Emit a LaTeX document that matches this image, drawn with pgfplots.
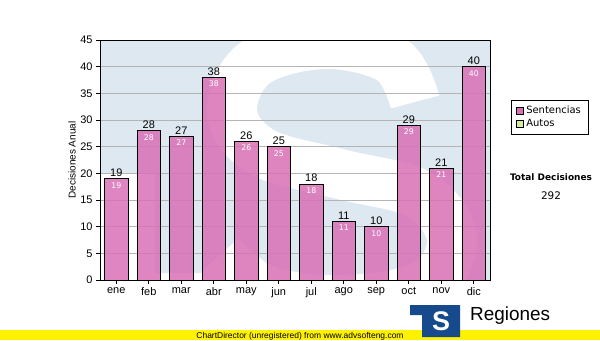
\documentclass[border=0pt]{standalone}
\usepackage{fontspec}
\setmainfont{Liberation Sans}
\newfontfamily\dejavu{DejaVu Sans}
\usepackage{pgfplots}
\pgfplotsset{compat=1.18}
\definecolor{barpink}{RGB}{217,112,182}
\definecolor{wmblue}{RGB}{222,232,241}
\definecolor{autosgreen}{RGB}{214,236,160}
\definecolor{logoblue}{RGB}{22,74,140}
\definecolor{gridgray}{RGB}{180,180,180}
\begin{document}
\begin{tikzpicture}[x=1bp,y=1bp]
\path[use as bounding box] (0,0) rectangle (600,340);
% watermark behind plot
\begin{scope}
\clip (100,60) rectangle (490,300);
\fill[wmblue] (100,300) -- (490,300) -- (490,60) -- (300,60) -- (300,67) -- (155,67) -- (155,167) -- (100,167) -- cycle;
\draw[white, line width=50bp, line cap=butt] plot[smooth, tension=0.6] coordinates {(415,238) (392,280) (325,296) (255,277) (232,228) (262,188) (340,166) (420,145) (452,100) (425,55) (345,40) (265,50) (220,85)};
\end{scope}
\begin{axis}[
  at={(100bp,60bp)}, anchor=south west,
  scale only axis, width=390bp, height=240bp,
  xmin=-0.5, xmax=11.5, ymin=0, ymax=45,
  ytick={0,5,...,45},
  xtick={0,...,11},
  xticklabels={ene,feb,mar,abr,may,jun,jul,ago,sep,oct,nov,dic},
  xtick pos=left, ytick pos=left,
  ymajorgrids, grid style={gridgray, line width=1bp},
  axis line style={black, line width=1bp},
  tick style={black, line width=1bp},
  tick align=outside, major tick length=4bp,
  /pgf/number format/assume math mode=true,
  tick label style={font=\fontsize{11}{13}\selectfont},
  every axis y label/.style={at={(axis description cs:-0.0718,0.5)}, rotate=90, anchor=center, font=\fontsize{10}{12}\selectfont},
  ylabel={Decisiones Anual},
  legend style={at={(axis description cs:1.054,0.75)}, anchor=north west, draw=black, line width=0.8bp,
    font=\dejavu\fontsize{10}{12}\selectfont, inner xsep=5bp, inner ysep=4bp, row sep=0bp,
    cells={anchor=west}},
  legend image code/.code={\draw[#1,draw=black,line width=0.8bp] (0bp,-3.5bp) rectangle (7bp,3.5bp);},
]
\addplot[ybar, bar width=23.5bp, bar shift=0pt, fill=barpink, fill opacity=0.85, draw=black, line width=1bp, forget plot,
  nodes near coords,
  every node near coord/.append style={font=\fontsize{11}{13}\selectfont, black, inner sep=1.5bp, fill opacity=1, text opacity=1}]
  coordinates {(0,19) (1,28) (2,27) (3,38) (4,26) (5,25) (6,18) (7,11) (8,10) (9,29) (10,21) (11,40)};
\addplot[ybar, bar width=23.5bp, bar shift=0pt, draw=none, fill=none, forget plot,
  nodes near coords, nodes near coords align={below},
  every node near coord/.append style={font=\dejavu\fontsize{7.8}{9}\selectfont, white, inner sep=3.5bp, text opacity=1}]
  coordinates {(0,19) (1,28) (2,27) (3,38) (4,26) (5,25) (6,18) (7,11) (8,10) (9,29) (10,21) (11,40)};
\addlegendimage{fill=barpink, draw=black}
\addlegendimage{fill=autosgreen, draw=black}
\legend{Sentencias, Autos}
\end{axis}
% side text
\node[font=\dejavu\bfseries\fontsize{9}{11}\selectfont] at (551,163) {Total Decisiones};
\node[font=\dejavu\fontsize{10.5}{12}\selectfont] at (551,144) {292};
% bottom strip
\fill[yellow] (0,0) rectangle (600,10);
\node[font=\fontsize{8.5}{10}\selectfont, anchor=base] at (300,2) {ChartDirector (unregistered) from www.advsofteng.com};
% logo
\fill[logoblue] (410,35) -- (460,35) -- (460,3) -- (422,3) -- (422,25) -- (410,25) -- cycle;
\node[white, inner sep=0, font=\bfseries\fontsize{27}{27}\selectfont] at (441,19) {S};
\node[font=\fontsize{19}{22}\selectfont, anchor=base west, inner sep=0] at (470,20) {Regiones};
\end{tikzpicture}
\end{document}
